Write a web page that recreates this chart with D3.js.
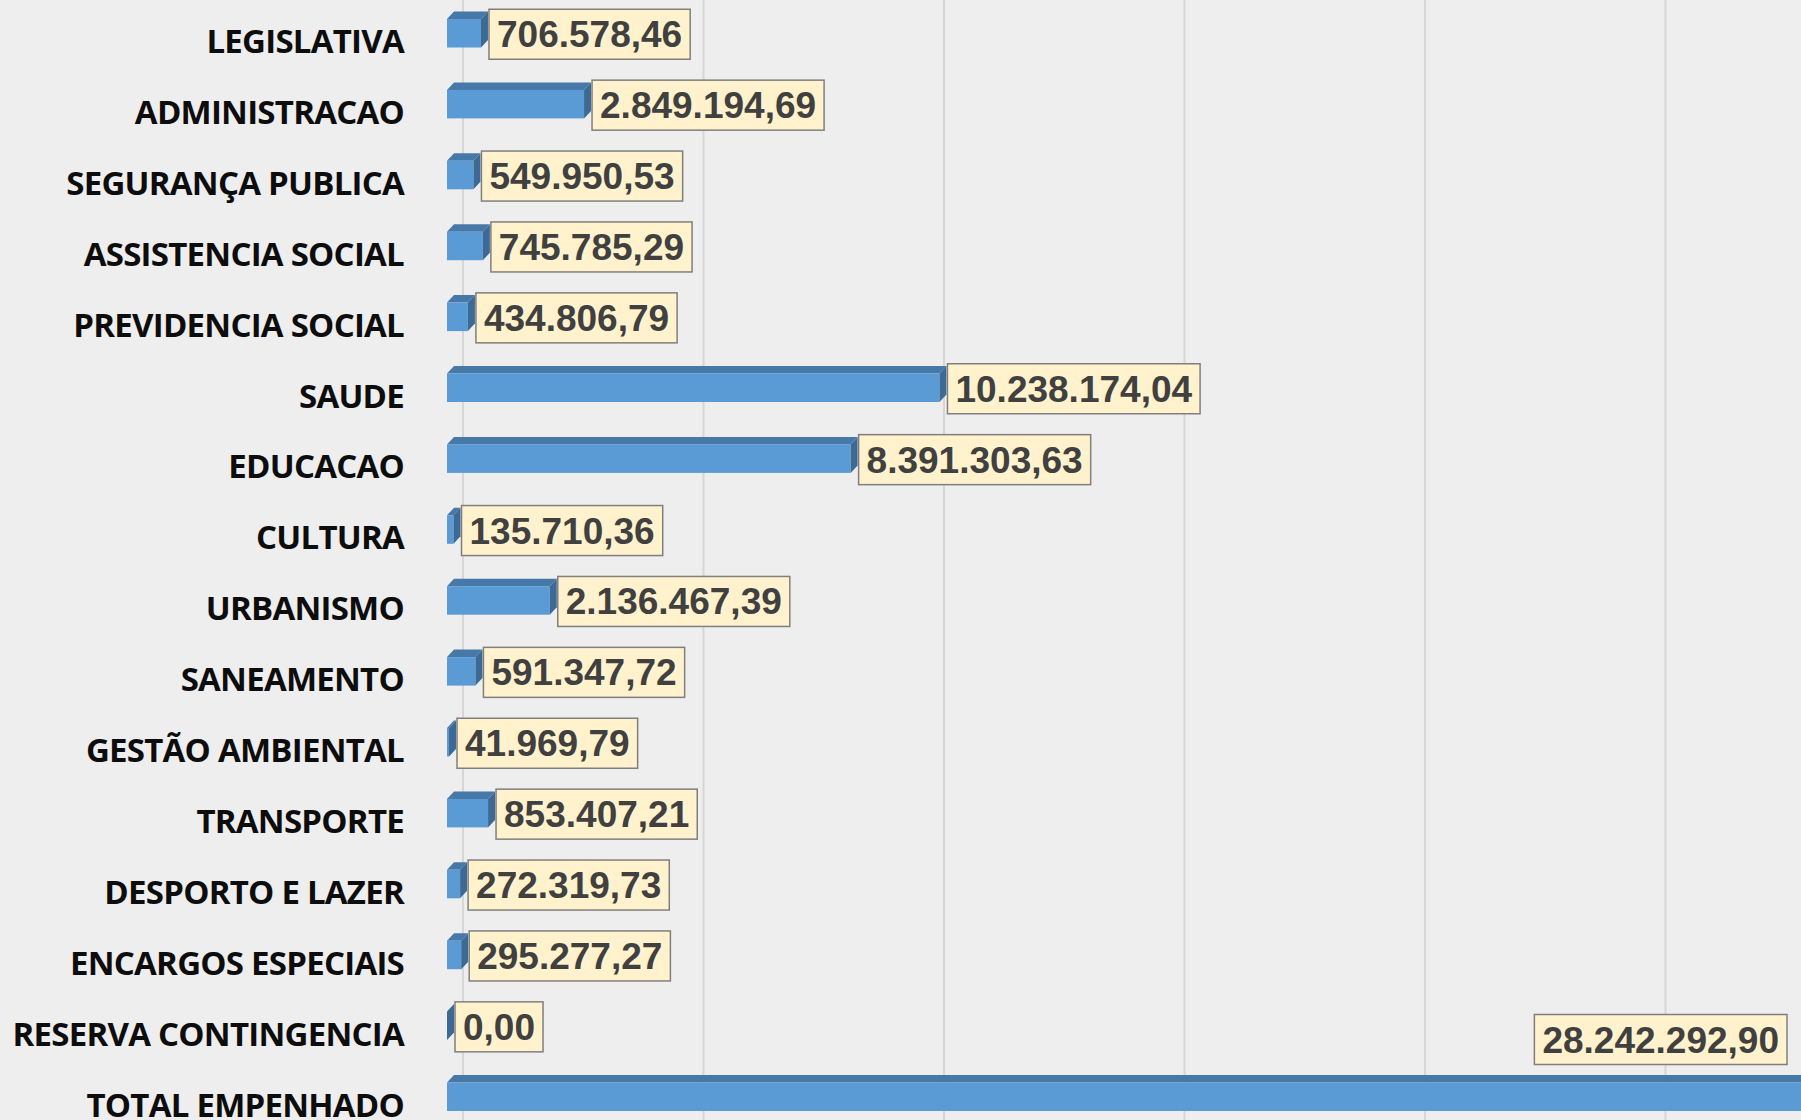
<!DOCTYPE html>
<html>
<head>
<meta charset="utf-8">
<script src="https://cdn.jsdelivr.net/npm/d3@7"></script>
<style>
  html, body { margin: 0; padding: 0; background: #eeeeee; overflow: hidden; }
  .cat   { font-family: "Open Sans", "Noto Sans", sans-serif; font-weight: 700; font-size: 33px; fill: #0d0d0d; letter-spacing: -0.75px; }
  .val   { font-family: "Liberation Sans", Arial, sans-serif; font-weight: 700; font-size: 37px; fill: #404040; }
</style>
</head>
<body>
<div id="chart"></div>
<script>
// ── data ──────────────────────────────────────────────────────────────────────
const categories = [
  'LEGISLATIVA', 'ADMINISTRACAO', 'SEGURANÇA PUBLICA', 'ASSISTENCIA SOCIAL',
  'PREVIDENCIA SOCIAL', 'SAUDE', 'EDUCACAO', 'CULTURA', 'URBANISMO',
  'SANEAMENTO', 'GESTÃO AMBIENTAL', 'TRANSPORTE', 'DESPORTO E LAZER',
  'ENCARGOS ESPECIAIS', 'RESERVA CONTINGENCIA', 'TOTAL EMPENHADO'
];
const values = [
  706578.46, 2849194.69, 549950.53, 745785.29,
  434806.79, 10238174.04, 8391303.63, 135710.36, 2136467.39,
  591347.72, 41969.79, 853407.21, 272319.73,
  295277.27, 0.00, 28242292.90
];
const gridTicks = [0, 5e6, 10e6, 15e6, 20e6, 25e6, 30e6];

// ── layout ────────────────────────────────────────────────────────────────────
const W = 1801, H = 1120;
const pitch = 70.9;           // row step
const barH  = 28.5;           // front face height
const dx = 7, dy = -7.5;      // 3d depth
const wallOffset = 16;        // gridlines sit on the back wall

const ptBR = d3.formatLocale({ decimal: ',', thousands: '.', grouping: [3], currency: ['R$', ''] });
const fmt  = ptBR.format(',.2f');

const x = d3.scaleLinear().domain([0, 30e6]).range([447, 447 + 6 * 240.5]);
const y = d3.scaleBand().domain(categories)
  .range([19 - (pitch - barH) / 2, 19 - (pitch - barH) / 2 + categories.length * pitch])
  .padding(0);
const frontTop = c => y(c) + (y.bandwidth() - barH) / 2;

const svg = d3.select('#chart').append('svg')
  .attr('width', W).attr('height', H);

svg.append('rect').attr('width', W).attr('height', H).attr('fill', '#eeeeee');

// ── gridlines ─────────────────────────────────────────────────────────────────
svg.append('g').selectAll('line')
  .data(gridTicks)
  .join('line')
    .attr('x1', d => x(d) + wallOffset)
    .attr('x2', d => x(d) + wallOffset)
    .attr('y1', 0).attr('y2', H)
    .attr('stroke', '#d6d6d6')
    .attr('stroke-width', 2);

// ── bars ──────────────────────────────────────────────────────────────────────
const rows = categories.map((c, i) => ({ cat: c, v: values[i] }));

const bars = svg.append('g').selectAll('g')
  .data(rows)
  .join('g');

bars.append('path')   // top face
  .attr('fill', '#4779a8')
  .attr('d', d => {
    const t = frontTop(d.cat), x0 = x(0), x1 = x(d.v);
    return `M${x0},${t}L${x0 + dx},${t + dy}L${x1 + dx},${t + dy}L${x1},${t}Z`;
  });

bars.append('rect')   // front face
  .attr('fill', '#5b9bd5')
  .attr('x', x(0))
  .attr('y', d => frontTop(d.cat))
  .attr('width', d => x(d.v) - x(0))
  .attr('height', barH);

bars.append('path')   // side face
  .attr('fill', '#3d6a94')
  .attr('d', d => {
    const t = frontTop(d.cat), x1 = x(d.v);
    return `M${x1},${t}L${x1 + dx},${t + dy}L${x1 + dx},${t + barH + dy}L${x1},${t + barH}Z`;
  });

// ── category labels ───────────────────────────────────────────────────────────
svg.append('g').selectAll('text')
  .data(categories)
  .join('text')
    .attr('class', 'cat')
    .attr('x', 404)
    .attr('y', c => frontTop(c) + 34)
    .attr('text-anchor', 'end')
    .text(c => c);

// ── value labels ──────────────────────────────────────────────────────────────
const boxH = 50, pad = 8;
const labels = svg.append('g').selectAll('g')
  .data(rows)
  .join('g');

labels.each(function(d) {
  const g = d3.select(this);
  const rect = g.append('rect')
    .attr('fill', '#fff2cc')
    .attr('stroke', '#7f7f7f')
    .attr('stroke-width', 1.5);
  const txt = g.append('text').attr('class', 'val').text(fmt(d.v));
  const tw = txt.node().getComputedTextLength();
  const bw = tw + pad * 2;
  const t = frontTop(d.cat);
  let bx = x(d.v) + dx + 1;
  let by = t + barH / 2 + 1 - boxH / 2;
  if (bx + bw > W - 10) {     // doesn't fit: put it above the bar end
    bx = W - 14 - bw;
    by = t - 68;
  }
  rect.attr('x', bx).attr('y', by).attr('width', bw).attr('height', boxH);
  txt.attr('x', bx + pad).attr('y', by + boxH / 2 + 13);
});
</script>
</body>
</html>
